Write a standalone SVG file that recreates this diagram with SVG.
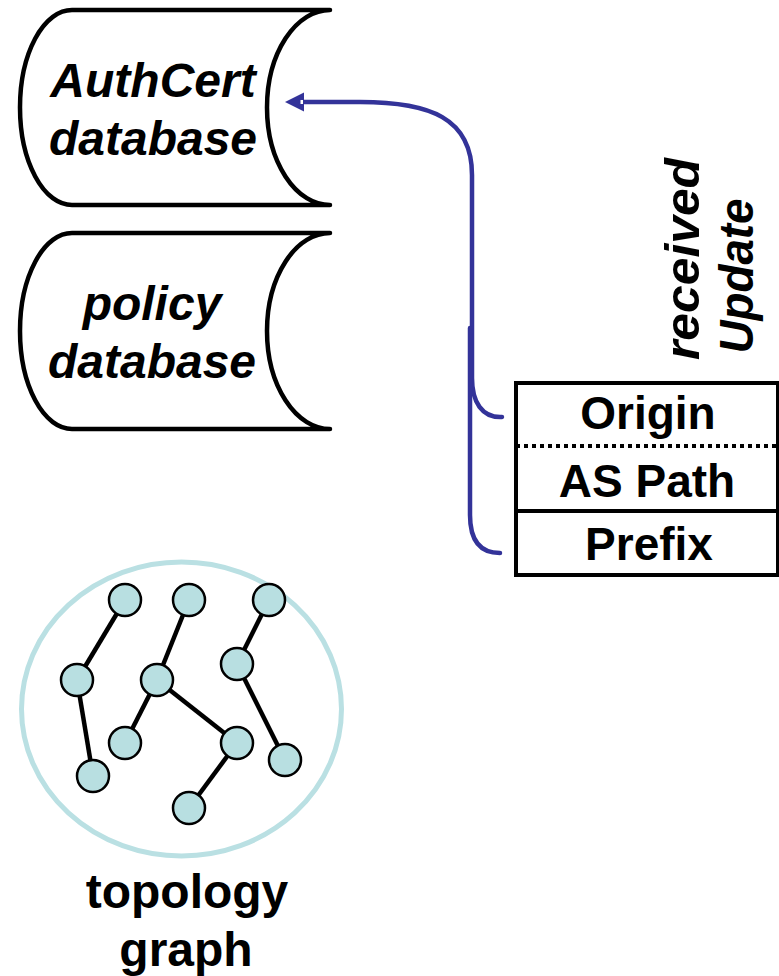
<svg xmlns="http://www.w3.org/2000/svg" width="779" height="976" viewBox="0 0 779 976">
<style>
.db{fill:#fff;stroke:#000;stroke-width:4.5;stroke-linejoin:round}
.dbt{font-family:"Liberation Sans",Arial,sans-serif;font-weight:bold;font-style:italic;font-size:48px;text-anchor:middle;fill:#000}
.rt{font-family:"Liberation Sans",Arial,sans-serif;font-weight:bold;font-size:46px;text-anchor:middle;fill:#000}
.conn{fill:none;stroke:#333399;stroke-width:4.5;stroke-linecap:round}
.edge{stroke:#000;stroke-width:4.5}
.nd{fill:#b8dfe1;stroke:#000;stroke-width:2.5}
</style>
<rect width="779" height="976" fill="#fff"/>
<g id="authcert">
<path class="db" d="M72,10 L330,10 A63,97.5 0 0 0 330,205 L72,205 A52,97.5 0 0 1 72,10 Z"/>
<text class="dbt" x="153" y="97">AuthCert</text>
<text class="dbt" x="153" y="155">database</text>
</g>
<g id="policy">
<path class="db" d="M72,233 L330,233 A63,98 0 0 0 330,429 L72,429 A52,98 0 0 1 72,233 Z"/>
<text class="dbt" x="152" y="320">policy</text>
<text class="dbt" x="152" y="378">database</text>
</g>
<g id="update-label">
<text class="dbt" transform="translate(699,259) rotate(-90)" x="0" y="0" textLength="202" lengthAdjust="spacingAndGlyphs">received</text>
<text class="dbt" transform="translate(753,276) rotate(-90)" x="0" y="0" textLength="155" lengthAdjust="spacingAndGlyphs">Update</text>
</g>
<g id="update">
<rect x="516" y="383" width="262" height="192" fill="#fff" stroke="#000" stroke-width="4"/>
<line x1="516" y1="446" x2="778" y2="446" stroke="#000" stroke-width="4" stroke-dasharray="4,4"/>
<line x1="516" y1="511" x2="778" y2="511" stroke="#000" stroke-width="4"/>
<text class="rt" x="648" y="429">Origin</text>
<text class="rt" x="647" y="497">AS Path</text>
<text class="rt" x="649" y="560">Prefix</text>
</g>
<g id="connectors">
<path class="conn" d="M502,417 C482,418 472,402 472,378 L472,175 C472,118 430,102 360,102 L303,102"/>
<polygon points="285,102 304,92.5 304,111.5" fill="#333399"/>
<rect x="300.5" y="100" width="2.5" height="4" fill="#fff"/>
<path class="conn" d="M500,553 C480,553 470,540 470,515 L470,328"/>
</g>
<g id="topology">
<ellipse cx="181.5" cy="709" rx="160" ry="147" fill="none" stroke="#bae0e3" stroke-width="5"/>
<g class="edge">
<line x1="125" y1="600" x2="77" y2="680"/>
<line x1="77" y1="680" x2="93" y2="776"/>
<line x1="189" y1="600" x2="157" y2="680"/>
<line x1="157" y1="680" x2="125" y2="743"/>
<line x1="157" y1="680" x2="237" y2="743"/>
<line x1="237" y1="743" x2="189" y2="808"/>
<line x1="269" y1="600" x2="237" y2="664"/>
<line x1="237" y1="664" x2="285" y2="760"/>
</g>
<circle class="nd" cx="125" cy="600" r="16"/>
<circle class="nd" cx="189" cy="600" r="16"/>
<circle class="nd" cx="269" cy="600" r="16"/>
<circle class="nd" cx="77" cy="680" r="16"/>
<circle class="nd" cx="157" cy="680" r="16"/>
<circle class="nd" cx="237" cy="664" r="16"/>
<circle class="nd" cx="125" cy="743" r="16"/>
<circle class="nd" cx="237" cy="743" r="16"/>
<circle class="nd" cx="93" cy="776" r="16"/>
<circle class="nd" cx="285" cy="760" r="16"/>
<circle class="nd" cx="189" cy="808" r="16"/>
<text class="rt" x="187" y="908" style="font-size:48px">topology</text>
<text class="rt" x="186" y="966" style="font-size:48px">graph</text>
</g>
</svg>
